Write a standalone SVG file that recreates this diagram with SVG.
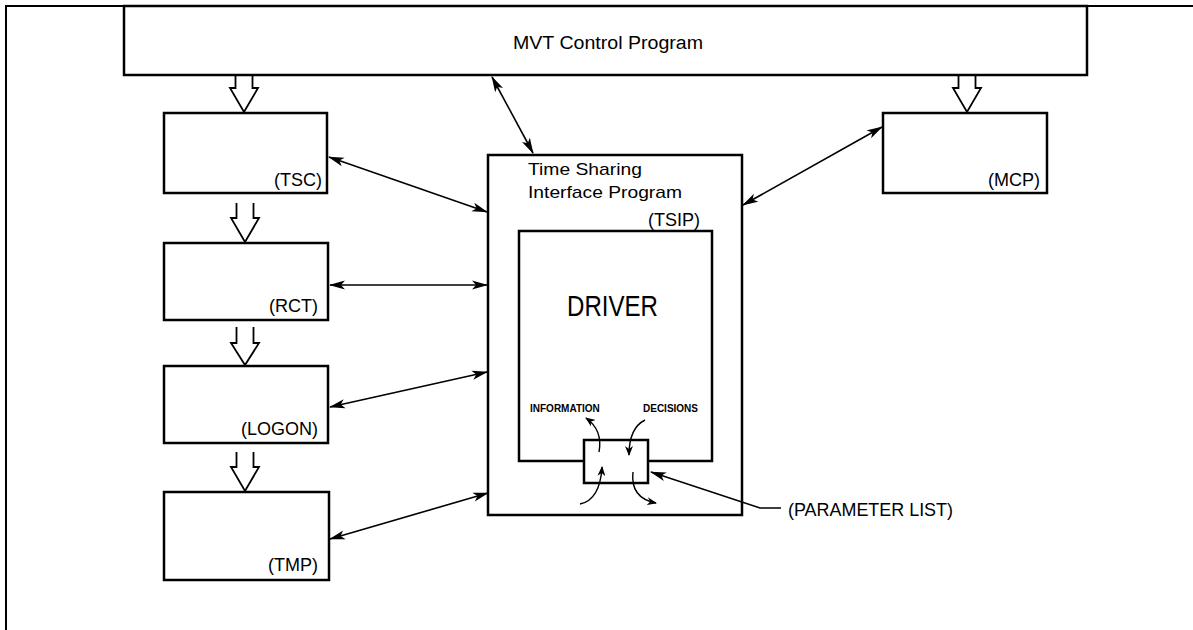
<svg xmlns="http://www.w3.org/2000/svg" width="1193" height="630" viewBox="0 0 1193 630">
<style>
.box{fill:#fff;stroke:#000;stroke-width:2.5}
.frame{fill:none;stroke:#000;stroke-width:2}
.hollow{fill:none;stroke:#000;stroke-width:1.8;stroke-linejoin:miter}
.conn{fill:none;stroke:#000;stroke-width:1.6}
.curv{fill:none;stroke:#000;stroke-width:1.4}
.lbl{font-family:"Liberation Sans",Arial,sans-serif;fill:#000}
.lbl18{font-family:"Liberation Sans",Arial,sans-serif;font-size:18px;fill:#000}
.small{font-family:"Liberation Sans",Arial,sans-serif;font-size:10px;font-weight:bold;fill:#000}
</style>
<defs>
<marker id="ah" viewBox="0 0 16 10" refX="15" refY="5" markerWidth="16" markerHeight="10" markerUnits="userSpaceOnUse" orient="auto-start-reverse">
<path d="M0,0.5 L16,5 L0,9.5 L4,5 z" fill="#000"/>
</marker>
<marker id="ahs" viewBox="0 0 10 8" refX="9" refY="4" markerWidth="10" markerHeight="8" markerUnits="userSpaceOnUse" orient="auto">
<path d="M0,0 L10,4 L0,8 L3,4 z" fill="#000"/>
</marker>
</defs>
<rect width="1193" height="630" fill="#fff"/>
<g id="frame">
<path class="frame" d="M1193,6 H6 V630"/>
</g>
<g id="mvt">
<rect class="box" x="124" y="6" width="963" height="69"/>
<text class="lbl" font-size="18" x="513" y="49" textLength="190" lengthAdjust="spacingAndGlyphs">MVT Control Program</text>
</g>
<g id="tsc">
<rect class="box" x="164" y="113" width="163" height="80"/>
<text class="lbl18" x="322" y="186" text-anchor="end">(TSC)</text>
</g>
<g id="rct">
<rect class="box" x="164" y="243" width="164" height="77"/>
<text class="lbl18" x="318" y="312" text-anchor="end">(RCT)</text>
</g>
<g id="logon">
<rect class="box" x="164" y="366" width="164" height="77"/>
<text class="lbl18" x="318" y="435" text-anchor="end">(LOGON)</text>
</g>
<g id="tmp">
<rect class="box" x="164" y="492" width="165" height="88"/>
<text class="lbl18" x="318" y="571" text-anchor="end">(TMP)</text>
</g>
<g id="mcp">
<rect class="box" x="883" y="113" width="164" height="80"/>
<text class="lbl18" x="1040" y="186" text-anchor="end">(MCP)</text>
</g>
<g id="tsip">
<rect class="box" x="488" y="155" width="254" height="360"/>
<text class="lbl" font-size="17" x="528" y="175" textLength="114" lengthAdjust="spacingAndGlyphs">Time Sharing</text>
<text class="lbl" font-size="17" x="528" y="198" textLength="154" lengthAdjust="spacingAndGlyphs">Interface Program</text>
<text class="lbl18" x="700" y="226" text-anchor="end">(TSIP)</text>
</g>
<g id="driver">
<rect class="box" x="519" y="231" width="193" height="230"/>
<text class="lbl" font-size="29" x="567" y="316" textLength="91" lengthAdjust="spacingAndGlyphs">DRIVER</text>
<text class="small" x="530" y="412">INFORMATION</text>
<text class="small" x="643" y="412">DECISIONS</text>
</g>
<g id="paramlist">
<rect class="box" x="584" y="440" width="64" height="43"/>
<text class="lbl18" x="788" y="516" textLength="165" lengthAdjust="spacingAndGlyphs">(PARAMETER LIST)</text>
</g>
<g id="connectors">
<path class="hollow" d="M235.5,75 V88 H230 L244,112 L258,88 H252.5 V75"/>
<path class="hollow" d="M236.5,203 V218 H231 L245,242 L259,218 H253.5 V203"/>
<path class="hollow" d="M236.5,327 V343 H231 L245,365 L259,343 H253.5 V327"/>
<path class="hollow" d="M236.5,452 V467 H231 L245,491 L259,467 H253.5 V452"/>
<path class="hollow" d="M958.5,75 V88 H953 L967,112 L981,88 H975.5 V75"/>
<line class="conn" x1="492" y1="77" x2="533" y2="153" marker-start="url(#ah)" marker-end="url(#ah)"/>
<line class="conn" x1="329" y1="157" x2="487" y2="212" marker-start="url(#ah)" marker-end="url(#ah)"/>
<line class="conn" x1="330" y1="285" x2="487" y2="285" marker-start="url(#ah)" marker-end="url(#ah)"/>
<line class="conn" x1="330" y1="407" x2="487" y2="372" marker-start="url(#ah)" marker-end="url(#ah)"/>
<line class="conn" x1="330" y1="539" x2="488" y2="493" marker-start="url(#ah)" marker-end="url(#ah)"/>
<line class="conn" x1="743" y1="205" x2="882" y2="127" marker-start="url(#ah)" marker-end="url(#ah)"/>
<path class="conn" d="M781,508 H760 L651,472" marker-end="url(#ah)"/>
<path class="curv" d="M599,452 Q603,430 586,418" marker-end="url(#ahs)"/>
<path class="curv" d="M645,420 Q629,428 629,455" marker-end="url(#ahs)"/>
<path class="curv" d="M580,504 Q600,500 602,467" marker-end="url(#ahs)"/>
<path class="curv" d="M633,472 Q630,498 656,503" marker-end="url(#ahs)"/>
</g>
</svg>
